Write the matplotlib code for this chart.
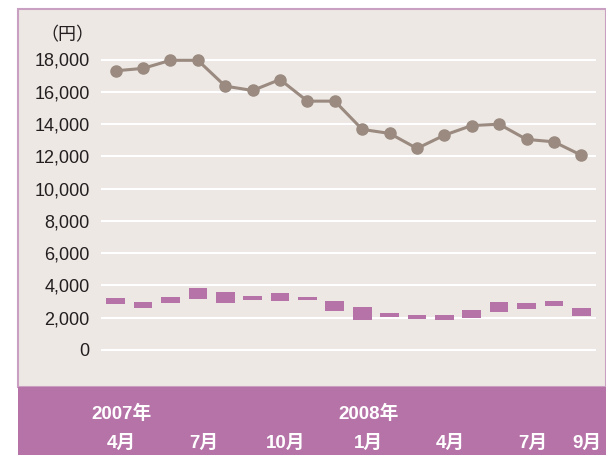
import numpy as np
import matplotlib
matplotlib.use("Agg")
import matplotlib.pyplot as plt
from matplotlib.patches import Rectangle
from matplotlib.transforms import blended_transform_factory

# monthly data, Apr 2007 - Sep 2008
months = ["2007-04", "2007-05", "2007-06", "2007-07", "2007-08", "2007-09",
          "2007-10", "2007-11", "2007-12", "2008-01", "2008-02", "2008-03",
          "2008-04", "2008-05", "2008-06", "2008-07", "2008-08", "2008-09"]
price = [17300, 17450, 17950, 17950, 16350, 16080, 16760, 15420, 15420,
         13670, 13420, 12490, 13310, 13910, 13990, 13050, 12900, 12070]
bar_low = [2860, 2600, 2910, 3150, 2910, 3090, 3030, 3090, 2410,
           1860, 2040, 1920, 1860, 1980, 2350, 2540, 2720, 2100]
bar_high = [3220, 2970, 3280, 3830, 3590, 3340, 3520, 3280, 3030,
            2660, 2290, 2170, 2170, 2480, 2970, 2910, 3030, 2600]
yticks = [0, 2000, 4000, 6000, 8000, 10000, 12000, 14000, 16000, 18000]
month_labels = {0: "4月", 3: "7月", 6: "10月", 9: "1月", 12: "4月", 15: "7月", 17: "9月"}
year_labels = {0: "2007年", 9: "2008年"}

BEIGE = "#ede8e4"
PURPLE = "#b673a8"
BORDER = "#c9a0c1"
LINE = "#9a8a80"
TXT = "#231f20"
fonts = ["Liberation Sans", "Noto Sans CJK JP", "DejaVu Sans"]
plt.rcParams['font.family'] = fonts

W, H = 606, 455
fig = plt.figure(figsize=(W / 100, H / 100), dpi=100, facecolor="white")

def fx(px):
    return px / W

def fy(py):
    return 1 - py / H

# panel background, purple band, border
fig.patches.append(Rectangle((fx(18), fy(387)), fx(W - 18), fy(9) - fy(387),
                             transform=fig.transFigure, facecolor=BEIGE,
                             edgecolor=BORDER, linewidth=1.5, zorder=-10))
fig.patches.append(Rectangle((fx(18), 0), fx(W - 18), fy(387),
                             transform=fig.transFigure, facecolor=PURPLE,
                             edgecolor="none", zorder=-10))

ax = fig.add_axes([fx(102), fy(350), fx(595) - fx(102), fy(59.5) - fy(350)])
ax.patch.set_visible(False)
for s in ax.spines.values():
    s.set_visible(False)

x = np.arange(len(months))
ax.set_xlim(-0.5, len(months) - 0.5)
ax.set_ylim(0, 18000)
for t in yticks:
    ax.axhline(t, color="white", linewidth=1.5, zorder=1, clip_on=False)

heights = np.array(bar_high) - np.array(bar_low)
ax.bar(x, heights, bottom=bar_low, width=0.68, color=PURPLE, zorder=2)
ax.plot(x, price, color=LINE, linewidth=2.2, marker="o", markersize=8,
        zorder=3, clip_on=False)

ax.set_xticks([])
ax.set_yticks(yticks)
ax.set_yticklabels([f"{t:,}" for t in yticks], fontsize=13, color=TXT)
ax.tick_params(axis="y", length=0, pad=9)

fig.text(fx(67), fy(36), "（円）", fontsize=13, color=TXT, ha="center", va="center")

tr = blended_transform_factory(ax.transData, fig.transFigure)
for i, lab in month_labels.items():
    ax.text(i + 0.22, fy(443), lab, transform=tr, ha="center", va="center",
            fontsize=13.5, fontweight="bold", color="white", clip_on=False)
for i, lab in year_labels.items():
    ax.text(i + 0.22, fy(414), lab, transform=tr, ha="center", va="center",
            fontsize=13.5, fontweight="bold", color="white", clip_on=False)

fig.savefig("out.png", dpi=100, facecolor="white")
